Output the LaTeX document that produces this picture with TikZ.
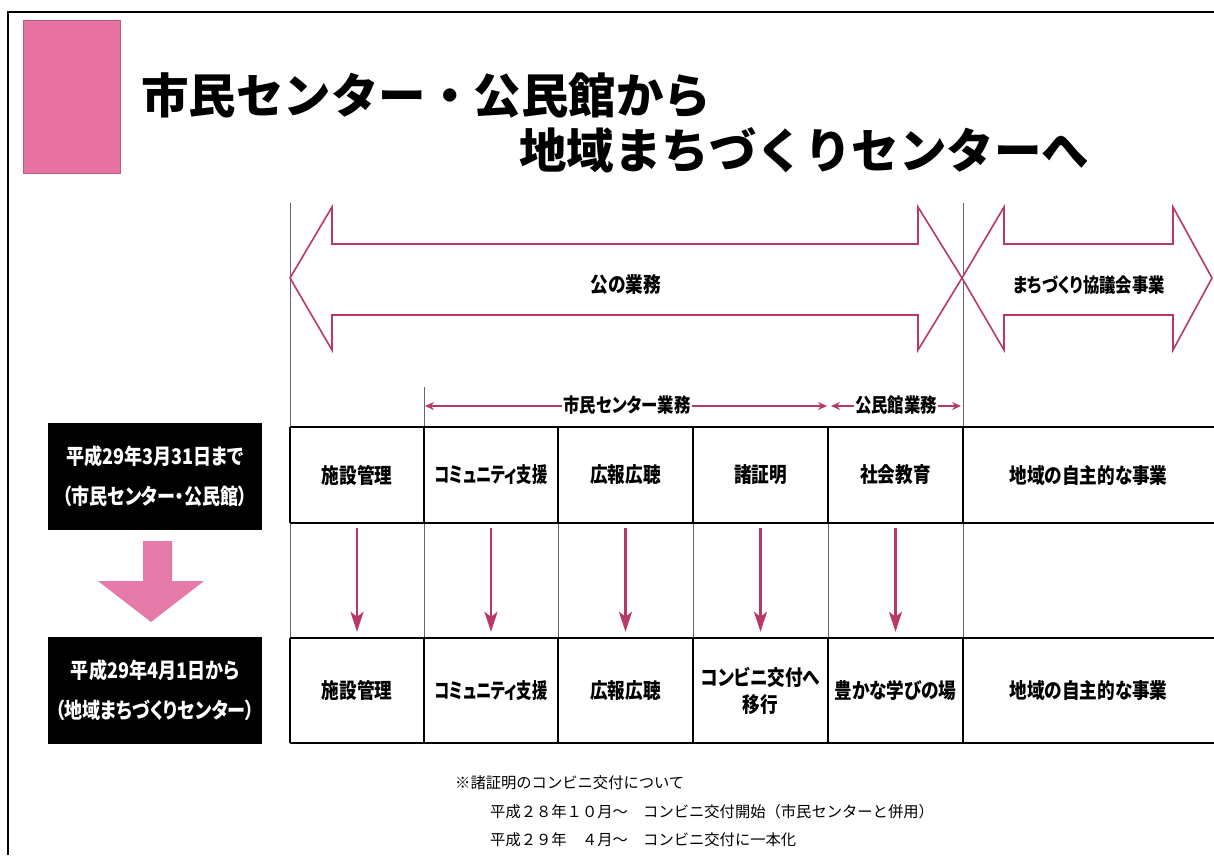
\documentclass[tikz,border=0pt]{standalone}
\usepackage{fontspec}
\usetikzlibrary{arrows.meta}
\newfontfamily\jp{Noto Sans CJK JP}
\newfontfamily\jpp{Noto Sans CJK JP}[RawFeature=+palt]
\newfontfamily\jpc{Noto Sans CJK JP}[RawFeature=+palt, FakeStretch=0.84]
\definecolor{crim}{HTML}{B83A64}
\definecolor{pinksq}{HTML}{E873A3}
\definecolor{pinkar}{HTML}{E57AA8}
\newcommand{\squeeze}[1]{\scalebox{0.87}[1]{#1}}
\tikzset{
  cellt/.style={inner sep=0pt, minimum width=134pt, minimum height=96pt, font=\jpc\bfseries\fontsize{21}{24}\selectfont, align=center},
  cellb/.style={inner sep=0pt, minimum width=134pt, minimum height=105pt, font=\jpc\bfseries\fontsize{21}{27}\selectfont, align=center},
  blackbox/.style={fill=black, text=white, inner sep=0pt, minimum width=214pt, minimum height=107pt, font=\jpc\bfseries\fontsize{21.5}{40}\selectfont, align=center},
  bigarrow/.style={draw=crim, line width=1.6pt, fill=white, line join=miter},
  downarr/.style={draw=crim, line width=2.4pt, -{Stealth[length=20pt,width=13pt,inset=5pt]}, shorten <=5pt, shorten >=6pt},
  smallarr/.style={draw=crim, line width=1.4pt, -{Stealth[length=9pt,width=8pt]}},
  lbl/.style={inner sep=1pt, font=\jpc\bfseries\fontsize{19.5}{22}\selectfont},
  note/.style={anchor=west, inner sep=0pt, font=\jp\fontsize{15.3}{18}\selectfont},
  thickh/.style={line width=2.6pt, black},
  vline/.style={line width=1.6pt, black},
  thinv/.style={line width=0.8pt, black!60},
}
\begin{document}
\begin{tikzpicture}[x=1pt,y=-1pt]
\useasboundingbox (0,0) rectangle (1214,855);
\fill[white] (0,0) rectangle (1214,855);
% frame
\draw[line width=1.8pt] (8,855) -- (8,12) -- (1214,12);
% pink square
\draw[pinksq!80!black, line width=0.8pt, fill=pinksq] (23,20) rectangle (120,173);
% title
\node[anchor=west, inner sep=0pt, font=\jp\bfseries\fontsize{47.5}{50}\selectfont] (title1) at (141,95) {市民センター・公民館から};
\node[anchor=west, inner sep=0pt, font=\jp\bfseries\fontsize{47.5}{50}\selectfont] (title2) at (519,150) {地域まちづくりセンターへ};
% thin verticals above table
\draw[thinv] (290,203) -- (290,427);
\draw[thinv] (963,203) -- (963,427);
\draw[thinv] (424,387) -- (424,427);
% big arrows
\draw[bigarrow] (290,278) -- (332,207) -- (332,244) -- (918,244) -- (918,207) -- (962,278) -- (918,350) -- (918,315) -- (332,315) -- (332,350) -- cycle;
\draw[bigarrow] (962,278) -- (1004,207) -- (1004,244) -- (1173,244) -- (1173,207) -- (1212,278) -- (1173,350) -- (1173,315) -- (1004,315) -- (1004,350) -- cycle;
\node[lbl, font=\jpc\bfseries\fontsize{21}{24}\selectfont] (pub) at (626,285) {公の業務};
\node[lbl] (kyo) at (1089,285) {まちづくり協議会事業};
% small arrows
\node[lbl] (sc) at (627,405) {市民センター業務};
\node[lbl] (km) at (896,405) {公民館業務};
\coordinate (scL) at (425,406);
\coordinate (scR) at (827,406);
\coordinate (kmL) at (831,406);
\coordinate (kmR) at (961,406);
\draw[smallarr] (sc.west |- scL) -- (scL);
\draw[smallarr] (sc.east |- scR) -- (scR);
\draw[smallarr] (km.west |- kmL) -- (kmL);
\draw[smallarr] (km.east |- kmR) -- (kmR);
% table lines
\foreach \x in {290,424,558,693,828,963} {
  \draw[vline] (\x,427) -- (\x,523);
  \draw[thinv] (\x,523) -- (\x,638);
  \draw[vline] (\x,638) -- (\x,743);
}
\foreach \y in {427,523,638,743} {
  \draw[thickh] (290,\y) -- (1214,\y);
}
% cells
\node[cellt] (t1) at (357,475) {施設管理};
\node[cellt] (t2) at (491,475) {\squeeze{コミュニティ支援}};
\node[cellt] (t3) at (625.5,475) {広報広聴};
\node[cellt] (t4) at (760.5,475) {諸証明};
\node[cellt] (t5) at (895.5,475) {社会教育};
\node[cellt, minimum width=251pt] (t6) at (1088.5,475) {地域の自主的な事業};
\node[cellb] (b1) at (357,690.5) {施設管理};
\node[cellb] (b2) at (491,690.5) {\squeeze{コミュニティ支援}};
\node[cellb] (b3) at (625.5,690.5) {広報広聴};
\node[cellb] (b4) at (760.5,690.5) {コンビニ交付へ\\移行};
\node[cellb] (b5) at (895.5,690.5) {豊かな学びの場};
\node[cellb, minimum width=251pt] (b6) at (1088.5,690.5) {地域の自主的な事業};
\foreach \i in {1,...,5} {
  \draw[downarr] (t\i.south) -- (b\i.north);
}
% left boxes
\node[blackbox] (old) at (155,476.5) {平成29年3月31日まで\\（市民センター・公民館）};
\node[blackbox] (new) at (155,690.5) {平成29年4月1日から\\（地域まちづくりセンター）};
\fill[pinkar] (143,541) -- (172,541) -- (172,581) -- (204,581) -- (151,622) -- (98,581) -- (143,581) -- cycle;
% notes
\node[note] (n1) at (455,783) {※諸証明のコンビニ交付について};
\node[note] (n2) at (490,812) {平成２８年１０月～　コンビニ交付開始（市民センターと併用）};
\node[note] (n3) at (490,840) {平成２９年　４月～　コンビニ交付に一本化};
\end{tikzpicture}
\end{document}
